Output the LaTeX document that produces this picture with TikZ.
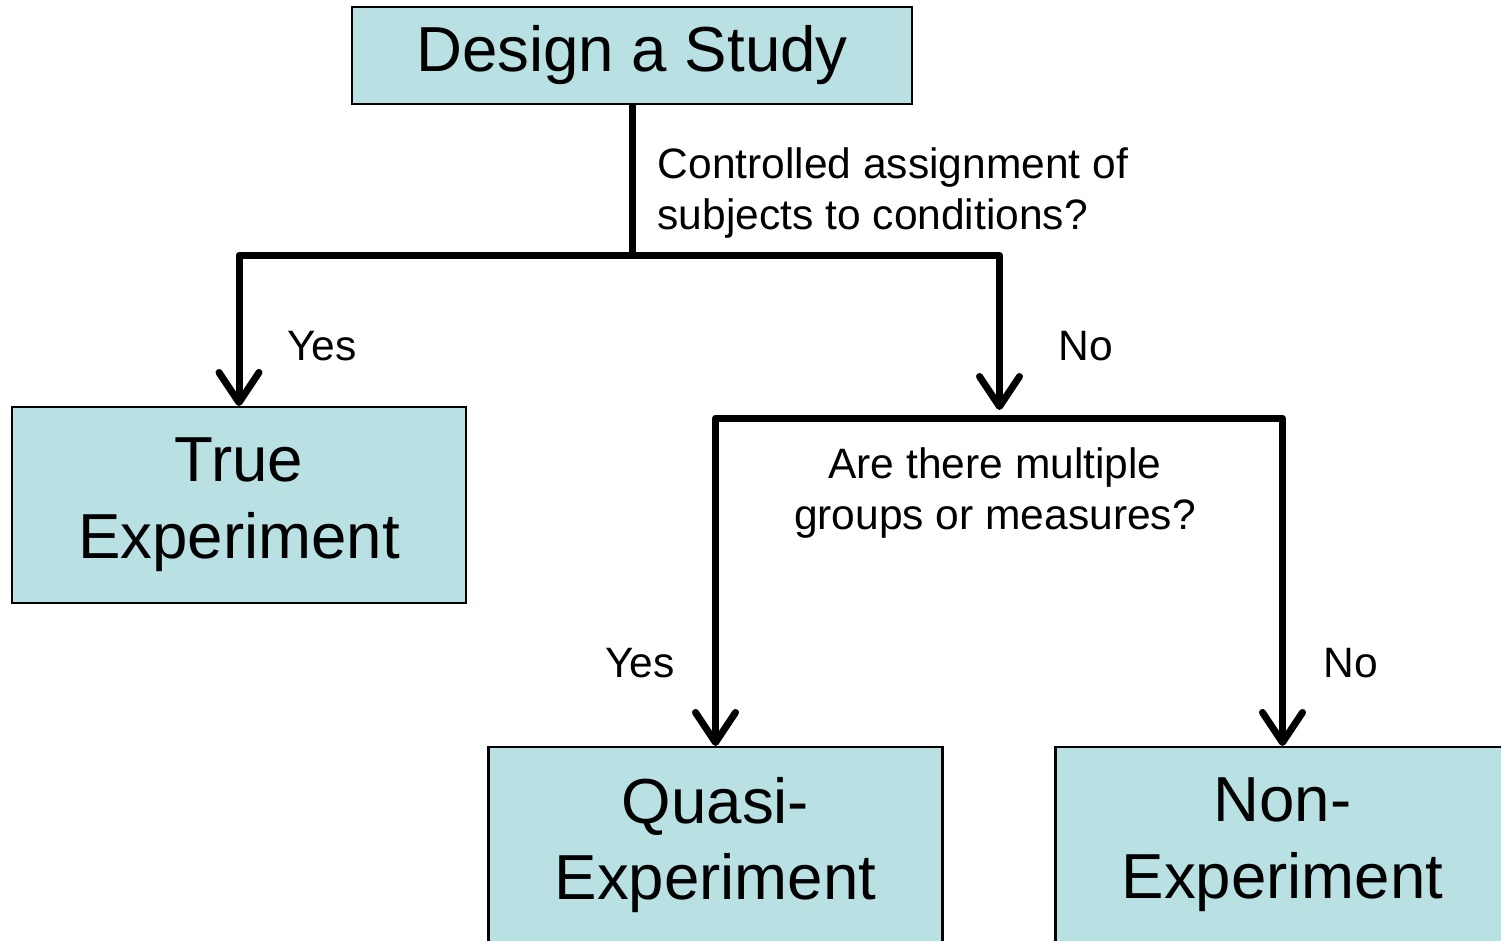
\documentclass[tikz,border=0pt]{standalone}
\usepackage{fontspec}
\setmainfont{Liberation Sans}
\usetikzlibrary{arrows.meta, positioning, calc}

\definecolor{boxblue}{RGB}{185,224,227}

\tikzset{
  box/.style={draw=black, line width=0.6pt, fill=boxblue, align=center,
    minimum width=4.54cm, minimum height=1.96cm, inner sep=0pt,
    font=\fontsize{18.1}{21.8}\selectfont},
  question/.style={inner sep=0pt, font=\fontsize{12.1}{14.4}\selectfont},
  flow/.style={line width=0.07cm, line join=round,
    -{Straight Barb[round, length=3mm, width=4mm]}},
  plain/.style={line width=0.07cm, line join=round}
}

\begin{document}
\begin{tikzpicture}
  \clip (0,0) rectangle (15.01,-9.40);

  % boxes
  \node[box, minimum width=5.60cm, minimum height=0.97cm] (study) at (6.32,-0.555) {Design a Study};
  \node[box] (true) at (2.39,-5.05) {True\\Experiment};
  \node[box] (quasi) at (7.155,-8.45) {Quasi-\\Experiment};
  \node[box] (non) at (12.825,-8.45) {Non-\\Experiment};

  % branch points
  \coordinate (split1) at (6.32,-2.55);
  \coordinate (split2) at (9.995,-4.18);
  \coordinate (noend) at (9.995,-4.10);

  % connectors
  \draw[plain] (study.south) -- (split1);
  \draw[flow] (split1) -| (true.north);
  \draw[flow] (split1) -| (noend);
  \draw[flow] (split2) -| (quasi.north);
  \draw[flow] (split2) -| (non.north);

  % questions and answers
  \node[question, anchor=west, align=left] (q1) at (6.57,-1.93) {Controlled assignment of\\subjects to conditions?};
  \node[question, align=center] (q2) at (9.95,-4.93) {Are there multiple\\groups or measures?};
  \node[question] (yes1) at (3.22,-3.46) {Yes};
  \node[question] (no1) at (10.86,-3.46) {No};
  \node[question] (yes2) at (6.40,-6.63) {Yes};
  \node[question] (no2) at (13.51,-6.63) {No};
\end{tikzpicture}
\end{document}
